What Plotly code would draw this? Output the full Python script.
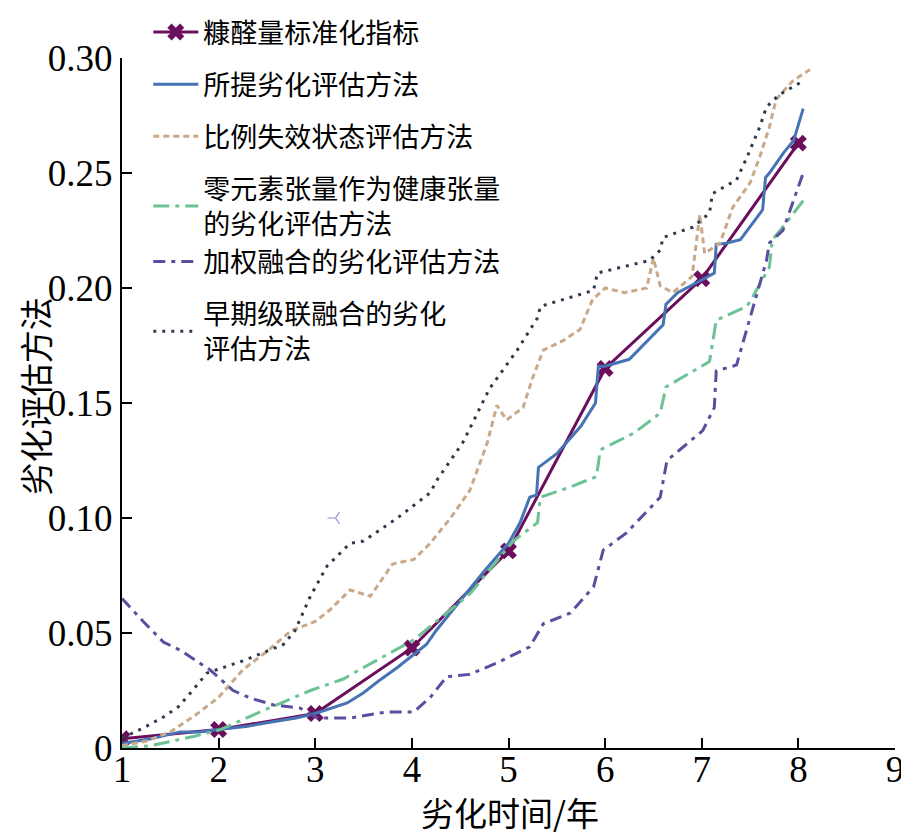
import plotly.graph_objects as go

# ---------------- data ----------------
years_marker = [1, 2, 3, 4, 5, 6, 7, 8]
furfural_index = [0.004, 0.008, 0.015, 0.0435, 0.0857, 0.165, 0.204, 0.263]

proposed_x = [1.0, 1.3, 1.6, 1.8, 2.0, 2.3, 2.5, 2.8, 3.0, 3.15, 3.33, 3.5, 3.67, 3.85, 4.0, 4.15, 4.25,
              4.5, 4.75, 5.0, 5.12, 5.22, 5.29, 5.31, 5.5, 5.75, 5.9, 5.93, 6.0, 6.25, 6.5, 6.6, 6.63,
              6.75, 7.0, 7.13, 7.15, 7.25, 7.4, 7.55, 7.63, 7.66, 7.7, 7.85, 7.95, 8.05]
proposed_y = [0.002, 0.004, 0.007, 0.007, 0.008, 0.0095, 0.011, 0.013, 0.015, 0.017, 0.0196, 0.024, 0.0296,
              0.035, 0.040, 0.045, 0.051, 0.064, 0.077, 0.089, 0.098, 0.109, 0.110, 0.122, 0.128, 0.140,
              0.150, 0.166, 0.166, 0.169, 0.180, 0.184, 0.193, 0.198, 0.2035, 0.2065, 0.219, 0.2195, 0.221,
              0.2296, 0.234, 0.248, 0.250, 0.259, 0.264, 0.278]

ratio_x = [1.0, 1.25, 1.5, 1.75, 2.0, 2.25, 2.5, 2.75, 3.0, 3.15, 3.36, 3.57, 3.8, 4.02, 4.19, 4.4, 4.6,
           4.78, 4.88, 4.98, 5.15, 5.25, 5.36, 5.56, 5.74, 5.87, 6.0, 6.2, 6.43, 6.5, 6.57, 6.7, 6.9,
           6.98, 7.03, 7.19, 7.32, 7.5, 7.6, 7.7, 7.77, 7.94, 8.12]
ratio_y = [0.001, 0.003, 0.007, 0.014, 0.022, 0.034, 0.042, 0.051, 0.055, 0.060, 0.0687, 0.066, 0.080,
           0.082, 0.089, 0.100, 0.112, 0.1326, 0.149, 0.1426, 0.148, 0.161, 0.173, 0.177, 0.182, 0.195,
           0.200, 0.198, 0.200, 0.213, 0.201, 0.198, 0.205, 0.232, 0.215, 0.2196, 0.235, 0.2457, 0.257,
           0.270, 0.282, 0.290, 0.295]

zero_x = [1.0, 1.3, 1.74, 2.02, 2.5, 2.95, 3.29, 3.5, 4.02, 4.6, 5.05, 5.3, 5.33, 5.64, 5.91, 5.95, 6.3,
          6.57, 6.63, 7.08, 7.15, 7.47, 7.7, 7.73, 7.84, 8.05]
zero_y = [0.0, 0.001, 0.005, 0.008, 0.017, 0.025, 0.030, 0.035, 0.047, 0.067, 0.090, 0.098, 0.109, 0.1135,
          0.118, 0.1296, 0.137, 0.1456, 0.157, 0.168, 0.186, 0.192, 0.209, 0.221, 0.2265, 0.238]

weighted_x = [1.0, 1.22, 1.43, 1.6, 1.91, 2.15, 2.33, 2.57, 2.84, 3.02, 3.36, 3.74, 4.02, 4.19, 4.36, 4.6,
              4.88, 5.22, 5.36, 5.64, 5.88, 5.98, 6.22, 6.57, 6.64, 7.01, 7.13, 7.15, 7.36, 7.5, 7.67,
              7.7, 7.84, 8.05]
weighted_y = [0.065, 0.055, 0.046, 0.0426, 0.034, 0.025, 0.0217, 0.0187, 0.0174, 0.013, 0.013, 0.0157,
              0.0157, 0.022, 0.031, 0.032, 0.037, 0.044, 0.054, 0.0587, 0.070, 0.086, 0.0935, 0.109,
              0.125, 0.138, 0.148, 0.164, 0.1665, 0.187, 0.212, 0.2196, 0.225, 0.250]

early_x = [1.0, 1.22, 1.43, 1.58, 1.71, 1.88, 2.26, 2.67, 2.79, 2.95, 3.12, 3.36, 3.5, 3.85, 4.19, 4.26,
           4.53, 4.8, 5.09, 5.3, 5.33, 5.64, 5.88, 5.92, 6.46, 6.57, 6.6, 6.91, 7.08, 7.11, 7.36, 7.47,
           7.6, 7.67, 7.8, 8.05]
early_y = [0.0043, 0.0087, 0.0135, 0.0178, 0.024, 0.0326, 0.038, 0.045, 0.051, 0.066, 0.079, 0.089,
           0.090, 0.100, 0.111, 0.1165, 0.133, 0.156, 0.173, 0.187, 0.192, 0.196, 0.199, 0.2065, 0.212,
           0.2165, 0.222, 0.2265, 0.2326, 0.241, 0.247, 0.257, 0.270, 0.2787, 0.284, 0.290]

stray_x = [3.21]
stray_y = [0.100]

names = ["糠醛量标准化指标", "所提劣化评估方法", "比例失效状态评估方法",
         "零元素张量作为健康张量<br>的劣化评估方法", "加权融合的劣化评估方法",
         "早期级联融合的劣化<br>评估方法"]

x_ticks = [1, 2, 3, 4, 5, 6, 7, 8, 9]
y_ticks = [0, 0.05, 0.10, 0.15, 0.20, 0.25, 0.30]
y_tick_labels = ["0", "0.05", "0.10", "0.15", "0.20", "0.25", "0.30"]
x_title = "劣化时间/年"
y_title = "劣化评估方法"

# ---------------- figure ----------------
fig = go.Figure()
LW = 3
fig.add_trace(go.Scatter(x=years_marker, y=furfural_index, name=names[0], mode="lines+markers",
                         line=dict(color="#6a0f5c", width=LW),
                         marker=dict(symbol="x", size=15, color="#6a0f5c"), legendgroup="a"))
fig.add_trace(go.Scatter(x=proposed_x, y=proposed_y, name=names[1], mode="lines",
                         line=dict(color="#4673b4", width=LW), legendgroup="b"))
fig.add_trace(go.Scatter(x=ratio_x, y=ratio_y, name=names[2], mode="lines",
                         line=dict(color="#c8aa8a", width=LW, dash="6px,4px"), legendgroup="c"))
fig.add_trace(go.Scatter(x=zero_x, y=zero_y, name=names[3], mode="lines",
                         line=dict(color="#6cc294", width=LW, dash="16px,6px,4px,6px"), legendgroup="d"))
fig.add_trace(go.Scatter(x=weighted_x, y=weighted_y, name=names[4], mode="lines",
                         line=dict(color="#5a4f9e", width=LW, dash="12px,6px,4px,6px"), legendgroup="d"))
fig.add_trace(go.Scatter(x=early_x, y=early_y, name=names[5], mode="lines",
                         line=dict(color="#2e3a4c", width=LW, dash="3px,6px"), legendgroup="f"))
fig.add_trace(go.Scatter(x=stray_x, y=stray_y, mode="markers", showlegend=False,
                         marker=dict(symbol="y-left-open", size=10, color="#8a8ed0",
                                     line=dict(width=1.2, color="#8a8ed0"))))

tick_font = dict(family="Liberation Serif, Times New Roman, serif", size=37, color="black")
cjk = "Noto Sans CJK SC"

# the page body adds an 8px offset, so the figure is 8px smaller and shifted accordingly
fig.update_layout(
    width=901, height=828,
    margin=dict(l=114, r=14, t=0, b=88, autoexpand=False),
    paper_bgcolor="white", plot_bgcolor="white",
    showlegend=True,
    legend=dict(x=0.034, y=1.0, xanchor="left", yanchor="top",
                bgcolor="rgba(0,0,0,0)", font=dict(family=cjk, size=27, color="black"),
                tracegroupgap=14, itemwidth=45),
    xaxis=dict(range=[1, 9], tickvals=x_ticks, ticks="inside", ticklen=10, tickwidth=2,
               showline=True, linecolor="black", linewidth=2, showgrid=False, zeroline=False,
               tickfont=tick_font, tickcolor="black", automargin=False, ticklabelstandoff=-12),
    yaxis=dict(range=[0, 0.30], domain=[0, 0.9324], tickvals=y_ticks, ticktext=y_tick_labels,
               ticks="inside", ticklen=10,
               tickwidth=2, showline=True, linecolor="black", linewidth=2, showgrid=False,
               zeroline=False, tickfont=tick_font, tickcolor="black", automargin=False),
    annotations=[
        dict(text=x_title, xref="paper", yref="paper", x=0.502, y=-0.087, xanchor="center",
             yanchor="middle", showarrow=False, font=dict(family=cjk, size=33, color="black")),
        dict(text=y_title, xref="paper", yref="paper", x=-0.113, y=0.475, xanchor="center",
             yanchor="middle", textangle=-90, showarrow=False,
             font=dict(family=cjk, size=33, color="black")),
    ],
)

fig.write_html("out.html")
